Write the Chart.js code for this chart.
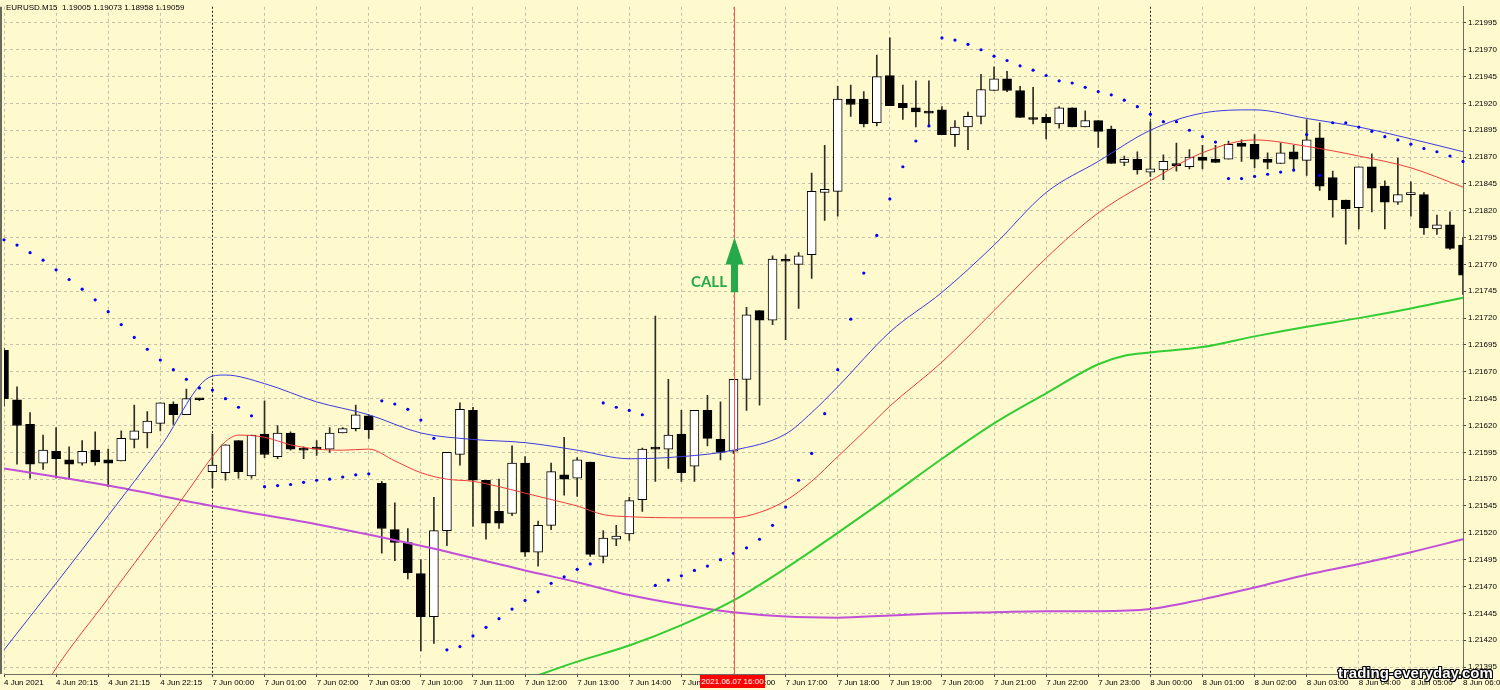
<!DOCTYPE html>
<html>
<head>
<meta charset="utf-8">
<script src="https://cdn.jsdelivr.net/npm/chart.js@4.4.0/dist/chart.umd.min.js"></script>
<style>
  html, body { margin: 0; padding: 0; background: #fefacd; }
  #wrap { position: relative; width: 1500px; height: 690px; overflow: hidden; }
  .ov { position: absolute; white-space: nowrap; font-family: "Liberation Sans", Arial, sans-serif; }
  #title { left: 6px; top: 3px; font-size: 8px; color: #000; }
  #call { left: 691px; top: 272px; font-family: Lato, sans-serif; font-weight: bold; font-size: 15px; color: #26a94a; }
  #stamp { left: 700px; top: 675px; width: 65px; height: 13px; line-height: 13px; background: #ff0000; color: #fff; font-size: 8px; text-align: center; }
  #mark { left: 1338px; top: 664px; font-weight: bold; font-size: 15px; color: #fff;
    text-shadow: -1px -1px 0 #000, 1px -1px 0 #000, -1px 1px 0 #000, 1px 1px 0 #000, 0 1px 0 #000, 0 -1px 0 #000, 1px 0 0 #000, -1px 0 0 #000; }
</style>
</head>
<body>
<div id="wrap">
  <canvas id="chart" width="1500" height="690"></canvas>
  <div class="ov" id="title">EURUSD.M15&nbsp; 1.19005 1.19073 1.18958 1.19059</div>
  <div class="ov" id="call">CALL</div>
  <div class="ov" id="stamp">2021.06.07 16:00</div>
  <div class="ov" id="mark">trading-everyday.com</div>
</div>
<script>
// one label every 4 bars (M15 -> one per hour)
var tickLabels = ["4 Jun 2021", "4 Jun 20:15", "4 Jun 21:15", "4 Jun 22:15", "7 Jun 00:00", "7 Jun 01:00",
  "7 Jun 02:00", "7 Jun 03:00", "7 Jun 10:00", "7 Jun 11:00", "7 Jun 12:00", "7 Jun 13:00", "7 Jun 14:00",
  "7 Jun 15:00", "7 Jun 16:00", "7 Jun 17:00", "7 Jun 18:00", "7 Jun 19:00", "7 Jun 20:00", "7 Jun 21:00",
  "7 Jun 22:00", "7 Jun 23:00", "8 Jun 00:00", "8 Jun 01:00", "8 Jun 02:00", "8 Jun 03:00", "8 Jun 04:00",
  "8 Jun 05:00", "8 Jun 06:00"];

var open = [1.21690, 1.21644, 1.21621, 1.21585, 1.21596, 1.21588, 1.21585, 1.21597, 1.21588, 1.21587,
  1.21607, 1.21613, 1.21622, 1.21640, 1.21630, 1.21644, 1.21577, 1.21576, 1.21606, 1.21573,
  1.21612, 1.21591, 1.21613, 1.21598, 1.21598, 1.21598, 1.21613, 1.21617, 1.21629, 1.21566,
  1.21523, 1.21511, 1.21482, 1.21442, 1.21522, 1.21593, 1.21634, 1.21569, 1.21540, 1.21538,
  1.21585, 1.21502, 1.21527, 1.21574, 1.21571, 1.21586, 1.21498, 1.21514, 1.21519, 1.21551,
  1.21598, 1.21598, 1.21612, 1.21582, 1.21634, 1.21607, 1.21596, 1.21663, 1.21727, 1.21718,
  1.21773, 1.21770, 1.21779, 1.21837, 1.21838, 1.21924, 1.21924, 1.21902, 1.21946, 1.21920,
  1.21916, 1.21911, 1.21914, 1.21891, 1.21898, 1.21908, 1.21932, 1.21943, 1.21932, 1.21905,
  1.21907, 1.21901, 1.21916, 1.21898, 1.21904, 1.21896, 1.21865, 1.21868, 1.21856, 1.21858,
  1.21862, 1.21861, 1.21870, 1.21868, 1.21868, 1.21883, 1.21882, 1.21868, 1.21864, 1.21875,
  1.21867, 1.21888, 1.21851, 1.21830, 1.21823, 1.21861, 1.21843, 1.21828, 1.21835, 1.21835,
  1.21803, 1.21807, 1.21788];
var high = [1.21692, 1.21656, 1.21632, 1.21611, 1.21618, 1.21600, 1.21606, 1.21614, 1.21598, 1.21615,
  1.21639, 1.21633, 1.21641, 1.21642, 1.21654, 1.21645, 1.21612, 1.21602, 1.21606, 1.21611,
  1.21643, 1.21620, 1.21614, 1.21600, 1.21606, 1.21618, 1.21618, 1.21639, 1.21630, 1.21568,
  1.21548, 1.21524, 1.21495, 1.21553, 1.21595, 1.21641, 1.21637, 1.21569, 1.21570, 1.21601,
  1.21591, 1.21531, 1.21585, 1.21609, 1.21590, 1.21586, 1.21522, 1.21527, 1.21553, 1.21599,
  1.21722, 1.21663, 1.21634, 1.21634, 1.21648, 1.21642, 1.21663, 1.21730, 1.21727, 1.21778,
  1.21779, 1.21781, 1.21855, 1.21881, 1.21936, 1.21937, 1.21931, 1.21965, 1.21981, 1.21937,
  1.21941, 1.21941, 1.21917, 1.21904, 1.21912, 1.21947, 1.21954, 1.21950, 1.21936, 1.21935,
  1.21910, 1.21917, 1.21916, 1.21913, 1.21904, 1.21899, 1.21871, 1.21875, 1.21903, 1.21872,
  1.21883, 1.21877, 1.21881, 1.21881, 1.21885, 1.21886, 1.21891, 1.21874, 1.21883, 1.21881,
  1.21905, 1.21902, 1.21857, 1.21830, 1.21861, 1.21873, 1.21848, 1.21869, 1.21847, 1.21837,
  1.21816, 1.21819, 1.21795];
var low = [1.21638, 1.21584, 1.21571, 1.21579, 1.21571, 1.21570, 1.21583, 1.21583, 1.21563, 1.21587,
  1.21599, 1.21599, 1.21615, 1.21621, 1.21630, 1.21643, 1.21562, 1.21569, 1.21571, 1.21571,
  1.21590, 1.21589, 1.21597, 1.21589, 1.21592, 1.21595, 1.21613, 1.21615, 1.21608, 1.21501,
  1.21494, 1.21477, 1.21410, 1.21417, 1.21508, 1.21583, 1.21526, 1.21514, 1.21524, 1.21536,
  1.21498, 1.21489, 1.21523, 1.21555, 1.21554, 1.21498, 1.21492, 1.21508, 1.21513, 1.21540,
  1.21568, 1.21580, 1.21568, 1.21568, 1.21601, 1.21588, 1.21594, 1.21634, 1.21639, 1.21714,
  1.21700, 1.21729, 1.21757, 1.21811, 1.21815, 1.21908, 1.21898, 1.21899, 1.21918, 1.21905,
  1.21898, 1.21900, 1.21891, 1.21880, 1.21877, 1.21901, 1.21932, 1.21931, 1.21907, 1.21901,
  1.21887, 1.21897, 1.21898, 1.21898, 1.21879, 1.21864, 1.21862, 1.21854, 1.21852, 1.21849,
  1.21857, 1.21859, 1.21859, 1.21865, 1.21868, 1.21866, 1.21860, 1.21859, 1.21864, 1.21857,
  1.21853, 1.21839, 1.21814, 1.21789, 1.21803, 1.21819, 1.21803, 1.21826, 1.21815, 1.21798,
  1.21798, 1.21784, 1.21742];
var close = [1.21645, 1.21620, 1.21584, 1.21597, 1.21589, 1.21584, 1.21596, 1.21586, 1.21585, 1.21608,
  1.21615, 1.21624, 1.21641, 1.21630, 1.21645, 1.21644, 1.21583, 1.21602, 1.21577, 1.21611,
  1.21593, 1.21613, 1.21598, 1.21597, 1.21598, 1.21613, 1.21617, 1.21630, 1.21616, 1.21524,
  1.21511, 1.21483, 1.21442, 1.21522, 1.21595, 1.21635, 1.21569, 1.21529, 1.21529, 1.21585,
  1.21502, 1.21527, 1.21577, 1.21570, 1.21588, 1.21500, 1.21515, 1.21517, 1.21550, 1.21598,
  1.21598, 1.21611, 1.21576, 1.21634, 1.21608, 1.21595, 1.21663, 1.21723, 1.21718, 1.21775,
  1.21773, 1.21778, 1.21838, 1.21840, 1.21924, 1.21919, 1.21901, 1.21945, 1.21918, 1.21916,
  1.21912, 1.21911, 1.21891, 1.21898, 1.21908, 1.21933, 1.21943, 1.21932, 1.21907, 1.21905,
  1.21902, 1.21916, 1.21898, 1.21904, 1.21894, 1.21864, 1.21868, 1.21858, 1.21859, 1.21866,
  1.21862, 1.21870, 1.21867, 1.21865, 1.21882, 1.21880, 1.21868, 1.21865, 1.21874, 1.21868,
  1.21886, 1.21843, 1.21830, 1.21822, 1.21861, 1.21841, 1.21828, 1.21835, 1.21836, 1.21804,
  1.21807, 1.21785, 1.21760];

// parabolic SAR, one dot per bar
var sar = [1.21793, 1.21788, 1.21781, 1.21774, 1.21765, 1.21756, 1.21747, 1.21737, 1.21726, 1.21714,
  1.21702, 1.21691, 1.21681, 1.21672, 1.21663, 1.21655, 1.21653, 1.21645, 1.21637, 1.21629,
  1.21563, 1.21564, 1.21565, 1.21567, 1.21569, 1.21570, 1.21572, 1.21574, 1.21575, 1.21643,
  1.21640, 1.21635, 1.21625, 1.21608, 1.21411, 1.21414, 1.21424, 1.21432, 1.21440, 1.21449,
  1.21457, 1.21465, 1.21473, 1.21479, 1.21486, 1.21491, 1.21641, 1.21637, 1.21634, 1.21630,
  1.21471, 1.21476, 1.21480, 1.21485, 1.21489, 1.21495, 1.21501, 1.21506, 1.21514, 1.21527,
  1.21544, 1.21569, 1.21594, 1.21631, 1.21672, 1.21719, 1.21762, 1.21797, 1.21831, 1.21861,
  1.21885, 1.21899, 1.21981, 1.21979, 1.21975, 1.21970, 1.21964, 1.21960, 1.21955, 1.21951,
  1.21946, 1.21941, 1.21939, 1.21935, 1.21931, 1.21928, 1.21923, 1.21917, 1.21910, 1.21903,
  1.21903, 1.21895, 1.21889, 1.21884, 1.21850, 1.21850, 1.21852, 1.21854, 1.21856, 1.21858,
  1.21891, 1.21853, 1.21902, 1.21902, 1.21898, 1.21894, 1.21889, 1.21886, 1.21882, 1.21878,
  1.21875, 1.21871, 1.21866];

// moving averages read at [bar, price]
var maBlue = [[0, 1.21411], [4, 1.21473], [8, 1.21536], [12, 1.21600], [16, 1.21666], [17, 1.21667],
  [20, 1.21659], [24, 1.21642], [28, 1.21630], [32, 1.21613], [36, 1.21607], [40, 1.21604], [44, 1.21597],
  [48, 1.21589], [52, 1.21591], [56, 1.21597], [60, 1.21612], [62, 1.21632], [64, 1.21656], [68, 1.21707],
  [72, 1.21744], [76, 1.21788], [80, 1.21837], [84, 1.21866], [88, 1.21895], [92, 1.21911], [96, 1.21914],
  [100, 1.21906], [104, 1.21898], [108, 1.21887], [112, 1.21875]];
var maRed = [[3, 1.21374], [4, 1.21394], [8, 1.21459], [12, 1.21524], [14, 1.21557], [16, 1.21591],
  [17, 1.21605], [18, 1.21611], [20, 1.21609], [22, 1.21602], [24, 1.21598], [26, 1.21597], [28, 1.21598],
  [30, 1.21587], [32, 1.21576], [34, 1.21570], [36, 1.21568], [38, 1.21563], [40, 1.21557], [42, 1.21551],
  [44, 1.21545], [46, 1.21537], [48, 1.21535], [52, 1.21534], [56, 1.21534], [58, 1.21539], [60, 1.21550],
  [62, 1.21568], [64, 1.21591], [66, 1.21614], [68, 1.21638], [72, 1.21679], [76, 1.21727], [80, 1.21776],
  [84, 1.21818], [88, 1.21848], [92, 1.21874], [96, 1.21886], [100, 1.21880], [104, 1.21871],
  [108, 1.21860], [112, 1.21842]];
var maGreen = [[40, 1.21383], [44, 1.21400], [48, 1.21415], [52, 1.21434], [56, 1.21457], [60, 1.21487],
  [64, 1.21520], [68, 1.21554], [72, 1.21589], [76, 1.21622], [80, 1.21650], [84, 1.21677], [86, 1.21685],
  [88, 1.21688], [92, 1.21693], [96, 1.21703], [100, 1.21712], [104, 1.21720], [108, 1.21729],
  [112, 1.21739]];
var maPurple = [[0, 1.21580], [8, 1.21564], [16, 1.21545], [24, 1.21528], [32, 1.21508], [40, 1.21485],
  [44, 1.21474], [48, 1.21462], [52, 1.21453], [56, 1.21446], [60, 1.21442], [64, 1.21441], [68, 1.21443],
  [72, 1.21445], [76, 1.21446], [80, 1.21447], [84, 1.21447], [88, 1.21449], [92, 1.21458], [96, 1.21469],
  [100, 1.21481], [104, 1.21491], [108, 1.21502], [112, 1.21514]];

var signalBar = 56;          // 2021.06.07 16:00
var daySeparators = [16, 88];
var arrowTip = 1.21795, arrowNeck = 1.21770, arrowBase = 1.21744;

var yTicks = [];
for (var k = 0; k <= 24; k++) yTicks.push(+(1.21395 + k * 0.00025).toFixed(5));

var bg = '#fefacd';
var gridColor = '#c3c1ab';

function spread(pts) {
  var a = open.map(function () { return null; });
  pts.forEach(function (p) { a[p[0]] = p[1]; });
  return a;
}

var mt4 = {
  id: 'mt4',
  beforeDraw: function (chart) {
    var ctx = chart.ctx;
    ctx.save();
    ctx.fillStyle = bg;
    ctx.fillRect(0, 0, chart.width, chart.height);
    ctx.restore();
  },
  beforeDatasetsDraw: function (chart) {
    var ctx = chart.ctx, a = chart.chartArea, xs = chart.scales.x;
    ctx.save();
    ctx.strokeStyle = '#222';
    ctx.lineWidth = 1;
    ctx.setLineDash([2, 2]);
    daySeparators.forEach(function (i) {
      var x = Math.round(xs.getPixelForValue(i)) + 0.5;
      ctx.beginPath(); ctx.moveTo(x, a.top); ctx.lineTo(x, a.bottom); ctx.stroke();
    });
    ctx.restore();
  },
  afterDatasetsDraw: function (chart) {
    var ctx = chart.ctx, a = chart.chartArea, xs = chart.scales.x, ys = chart.scales.y;
    var x = Math.round(xs.getPixelForValue(signalBar)) + 0.5;
    ctx.save();
    ctx.strokeStyle = '#f25a5a';
    ctx.lineWidth = 1;
    ctx.beginPath(); ctx.moveTo(x, a.top); ctx.lineTo(x, a.bottom); ctx.stroke();
    // up arrow
    var yt = ys.getPixelForValue(arrowTip), yn = ys.getPixelForValue(arrowNeck), yb = ys.getPixelForValue(arrowBase);
    ctx.fillStyle = '#26a94a';
    ctx.beginPath();
    ctx.moveTo(x, yt);
    ctx.lineTo(x + 9, yn);
    ctx.lineTo(x + 3.5, yn);
    ctx.lineTo(x + 3.5, yb);
    ctx.lineTo(x - 3.5, yb);
    ctx.lineTo(x - 3.5, yn);
    ctx.lineTo(x - 9, yn);
    ctx.closePath();
    ctx.fill();
    // left frame
    ctx.fillStyle = '#6a6a5c';
    ctx.fillRect(0, a.top, 2, a.bottom - a.top);
    ctx.restore();
  }
};

Chart.defaults.font.family = '"Liberation Sans", Arial, sans-serif';
Chart.defaults.font.size = 8;
Chart.defaults.color = '#000';

new Chart(document.getElementById('chart'), {
  type: 'bar',
  data: {
    labels: open.map(function (v, i) { return i; }),
    datasets: [
      {
        type: 'line',
        data: sar,
        showLine: false,
        pointRadius: 1.6,
        pointBackgroundColor: '#0000ff',
        pointBorderWidth: 0,
        order: 0
      },
      {
        type: 'line',
        data: spread(maBlue),
        borderColor: '#3a3ae0',
        borderWidth: 1,
        pointRadius: 0,
        spanGaps: true,
        cubicInterpolationMode: 'monotone',
        order: 1
      },
      {
        type: 'line',
        data: spread(maRed),
        borderColor: '#f03c3c',
        borderWidth: 1,
        pointRadius: 0,
        spanGaps: true,
        cubicInterpolationMode: 'monotone',
        order: 2
      },
      {
        type: 'line',
        data: spread(maGreen),
        borderColor: '#32cd32',
        borderWidth: 2,
        pointRadius: 0,
        spanGaps: true,
        cubicInterpolationMode: 'monotone',
        order: 3
      },
      {
        type: 'line',
        data: spread(maPurple),
        borderColor: '#c050d8',
        borderWidth: 2,
        pointRadius: 0,
        spanGaps: true,
        cubicInterpolationMode: 'monotone',
        order: 4
      },
      {
        // candle bodies
        data: open.map(function (o, i) { return [o, close[i]]; }),
        backgroundColor: open.map(function (o, i) { return close[i] > o ? '#ffffff' : '#000000'; }),
        borderColor: '#000',
        borderWidth: 1,
        borderSkipped: false,
        barThickness: 9,
        minBarLength: 2,
        grouped: false,
        order: 5
      },
      {
        // wicks
        data: low.map(function (l, i) { return [l, high[i]]; }),
        backgroundColor: '#2e2e28',
        borderWidth: 0,
        barThickness: 1,
        grouped: false,
        order: 6
      }
    ]
  },
  options: {
    responsive: false,
    animation: false,
    devicePixelRatio: 1,
    layout: { padding: { left: 3, top: 3, right: 0, bottom: 0 } },
    plugins: { legend: { display: false }, tooltip: { enabled: false } },
    scales: {
      x: {
        offset: false,
        grid: {
          offset: false,
          color: function (c) { var i = c.index; return (i % 4 === 0 && daySeparators.indexOf(i) < 0) ? gridColor : 'rgba(0,0,0,0)'; },
          tickColor: function (c) { return c.index % 4 === 0 ? '#444' : 'rgba(0,0,0,0)'; },
          tickLength: 3
        },
        border: { color: '#6d6d60', dash: [3, 3] },
        ticks: {
          autoSkip: false,
          maxRotation: 0,
          align: 'start',
          padding: 1,
          callback: function (v, i) { return i % 4 === 0 ? tickLabels[i / 4] : ''; }
        },
        afterFit: function (s) { s.height = 16; s.paddingLeft = 0; s.paddingRight = 0; }
      },
      y: {
        position: 'right',
        min: 1.213885,
        max: 1.22010,
        afterBuildTicks: function (s) { s.ticks = yTicks.map(function (v) { return { value: v }; }); },
        grid: { color: gridColor, tickColor: '#444', tickLength: 3 },
        border: { color: '#6d6d60', dash: [3, 3] },
        ticks: {
          padding: 2,
          callback: function (v) { return Number(v).toFixed(5); }
        },
        afterFit: function (s) { s.width = 37; }
      }
    }
  },
  plugins: [mt4]
});
</script>
</body>
</html>
